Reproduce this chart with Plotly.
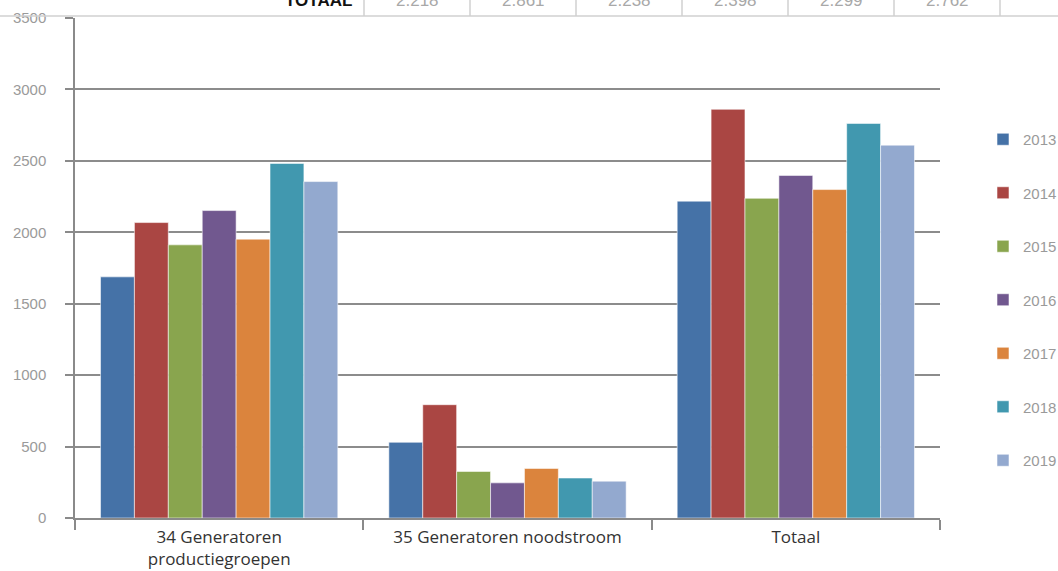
import plotly.graph_objects as go

# Categories on the x axis and the years shown as series
categories = ["34 Generatoren<br>productiegroepen", "35 Generatoren noodstroom", "Totaal"]
years = ["2013", "2014", "2015", "2016", "2017", "2018", "2019"]

# Values per year: [productiegroepen, noodstroom, totaal]
productiegroepen = [1688, 2068, 1912, 2152, 1952, 2482, 2355]
noodstroom = [530, 793, 326, 246, 347, 280, 258]
totaal = [2218, 2861, 2238, 2398, 2299, 2762, 2610]

# Row of the summary table above the chart (2013-2018)
table_row_label = "TOTAAL"
table_row_values = ["2.218", "2.861", "2.238", "2.398", "2.299", "2.762"]

colors = ["#4572A7", "#AA4643", "#89A54E", "#71588F", "#DB843D", "#4198AF", "#93A9CF"]

W, H = 1058, 571
L, R, T, B = 75, 118, 18, 53
PW, PH = W - L - R, H - T - B


def px_x(px):
    return (px - L) / PW


def px_y(py):
    return (H - B - py) / PH


fig = go.Figure()
for i, yr in enumerate(years):
    fig.add_trace(go.Bar(
        x=categories,
        y=[productiegroepen[i], noodstroom[i], totaal[i]],
        name=yr,
        legendgroup=yr,
        marker=dict(color=colors[i], line=dict(color="rgba(255,255,255,0.55)", width=1)),
    ))

narrow = "Liberation Sans Narrow, Liberation Sans, Arial Narrow, sans-serif"

fig.update_layout(
    width=W, height=H,
    margin=dict(l=L, r=R, t=T, b=B, autoexpand=False),
    paper_bgcolor="white", plot_bgcolor="white",
    barmode="group", bargap=0.177, bargroupgap=0,
    showlegend=True,
    legend=dict(
        x=px_x(983), xanchor="left", y=px_y(123), yanchor="top",
        font=dict(family=narrow, size=15, color="#9a9a9a"),
        tracegroupgap=31, bgcolor="rgba(0,0,0,0)",
    ),
    xaxis=dict(
        showline=True, linecolor="#8a8a8a", linewidth=1.5,
        ticks="outside", tickson="boundaries", ticklen=10, tickcolor="#8a8a8a", tickwidth=1.5,
        showgrid=False,
        tickfont=dict(family="Open Sans, Lato, sans-serif", size=17, color="#333333"),
        ticklabelstandoff=3,
    ),
    yaxis=dict(
        range=[0, 3500], dtick=500,
        showline=True, linecolor="#8a8a8a", linewidth=1.5,
        ticks="outside", ticklen=8, tickcolor="#8a8a8a", tickwidth=1.5,
        showgrid=True, gridcolor="#8c8c8c", gridwidth=1.5,
        zeroline=False,
        tickfont=dict(family=narrow, size=15, color="#9a9a9a"),
        ticklabelstandoff=16,
    ),
)

# Summary table row cut by the top edge of the page
shapes = [dict(type="line", xref="paper", yref="paper",
               x0=px_x(0), x1=px_x(W), y0=px_y(16), y1=px_y(16),
               line=dict(color="#d0d0d0", width=1.5))]
col_edges = [364, 470, 576, 682, 788, 894, 1000]
for xe in col_edges:
    shapes.append(dict(type="line", xref="paper", yref="paper",
                       x0=px_x(xe), x1=px_x(xe), y0=px_y(16), y1=px_y(-5),
                       line=dict(color="#d0d0d0", width=1.5)))
fig.update_layout(shapes=shapes)

annotations = [dict(text="<b>" + table_row_label + "</b>", xref="paper", yref="paper",
                    x=px_x(354), y=px_y(12), xanchor="right", yanchor="bottom",
                    showarrow=False, font=dict(family=narrow, size=17, color="#111111"))]
for j, v in enumerate(table_row_values):
    xc = (col_edges[j] + col_edges[j + 1]) / 2
    annotations.append(dict(text=v, xref="paper", yref="paper",
                            x=px_x(xc), y=px_y(12), xanchor="center", yanchor="bottom",
                            showarrow=False, font=dict(family=narrow, size=17, color="#a8a8a8")))
fig.update_layout(annotations=annotations)

fig.write_html("out.html")
